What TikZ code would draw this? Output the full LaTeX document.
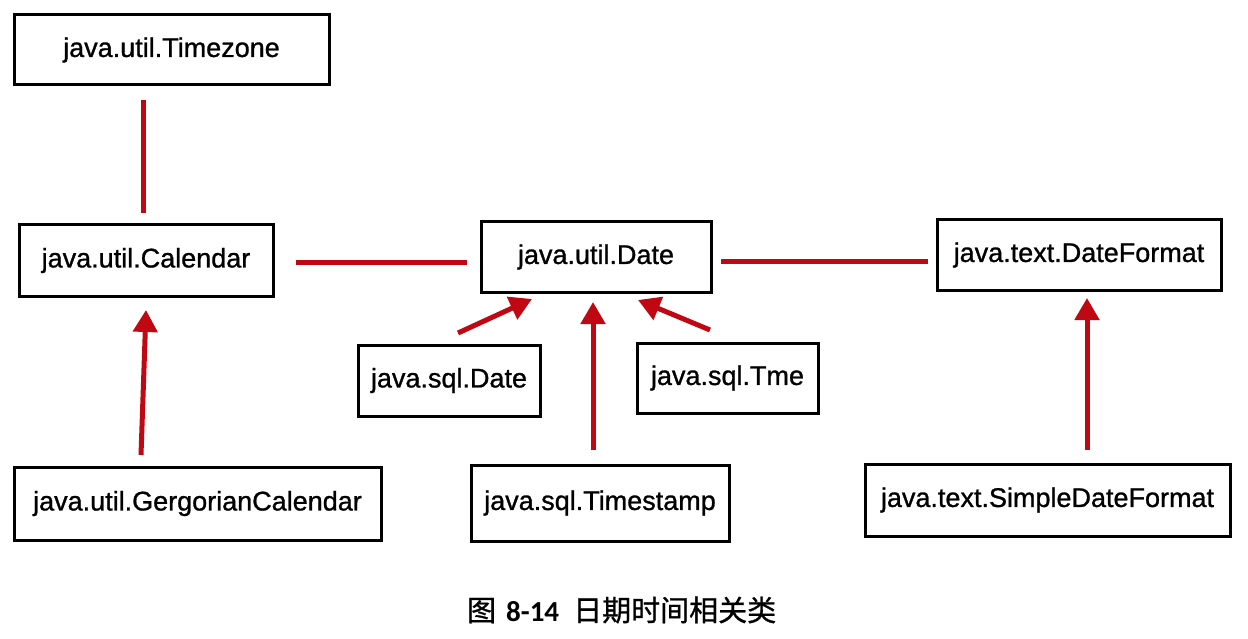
\documentclass[tikz,border=0pt]{standalone}
\usepackage{fontspec}
\setmainfont{Liberation Sans}[FakeBold=1]
\newfontfamily\cjk{Noto Sans CJK SC}[FakeBold=1]
\newfontfamily\capnum{Carlito}
\usetikzlibrary{arrows.meta}
\definecolor{linkred}{RGB}{192,8,18}
\tikzset{
  cls/.style={draw=black, line width=3pt, fill=white, inner sep=0pt, font=\fontsize{27}{32}\selectfont},
  link/.style={draw=linkred, line width=5pt},
  inh/.style={link, -{Triangle[width=24pt,length=22pt]}}
}
\begin{document}
\begin{tikzpicture}[x=1pt,y=-1pt]
\useasboundingbox (0,0) rectangle (1248,639);
% boxes
\node[cls, minimum width=315pt, minimum height=70pt] (tz) at (171.5,50) {java.util.Timezone};
\node[cls, minimum width=254pt, minimum height=71pt] (cal) at (146,260.5) {java.util.Calendar};
\node[cls, minimum width=230pt, minimum height=70pt] (date) at (596,257) {java.util.Date};
\node[cls, minimum width=284pt, minimum height=70pt] (df) at (1079,255) {java.text.DateFormat};
\node[cls, minimum width=182pt, minimum height=71pt] (sqld) at (449,380.5) {java.sql.Date};
\node[cls, minimum width=181pt, minimum height=70pt] (sqlt) at (727.5,378) {java.sql.Tme};
\node[cls, minimum width=367pt, minimum height=73pt] (greg) at (197.5,503.5) {java.util.GergorianCalendar};
\node[cls, minimum width=258pt, minimum height=76pt] (ts) at (600,503) {java.sql.Timestamp};
\node[cls, minimum width=365pt, minimum height=72pt] (sdf) at (1047.5,500) {java.text.SimpleDateFormat};
% connector end points
\coordinate (tzb) at (143,100);
\coordinate (calt) at (143,213);
\coordinate (calr) at (296,263);
\coordinate (datel) at (467,263);
\coordinate (dater) at (721,262);
\coordinate (dfl) at (928,262);
\coordinate (gregt) at (141,455);
\coordinate (calb) at (146,310);
\coordinate (sqldt) at (458,333);
\coordinate (datesw) at (532,299);
\coordinate (tst) at (593,450);
\coordinate (dates) at (593,302);
\coordinate (sqltt) at (710,330);
\coordinate (datese) at (638,300);
\coordinate (sdft) at (1087,450);
\coordinate (dfb) at (1087,298);
% connectors
\draw[link] (tzb) -- (calt);
\draw[link] (calr) -- (datel);
\draw[link] (dater) -- (dfl);
\draw[inh] (gregt) -- (calb);
\draw[inh] (sqldt) -- (datesw);
\draw[inh] (tst) -- (dates);
\draw[inh] (sqltt) -- (datese);
\draw[inh] (sdft) -- (dfb);
% caption
\node[anchor=base west, inner sep=0pt, font=\fontsize{29}{32}\selectfont] (cap) at (467,621)
  {{\cjk 图}\hspace{10pt}{\capnum\bfseries 8-14}\hspace{14pt}{\cjk 日期时间相关类}};
\end{tikzpicture}
\end{document}
